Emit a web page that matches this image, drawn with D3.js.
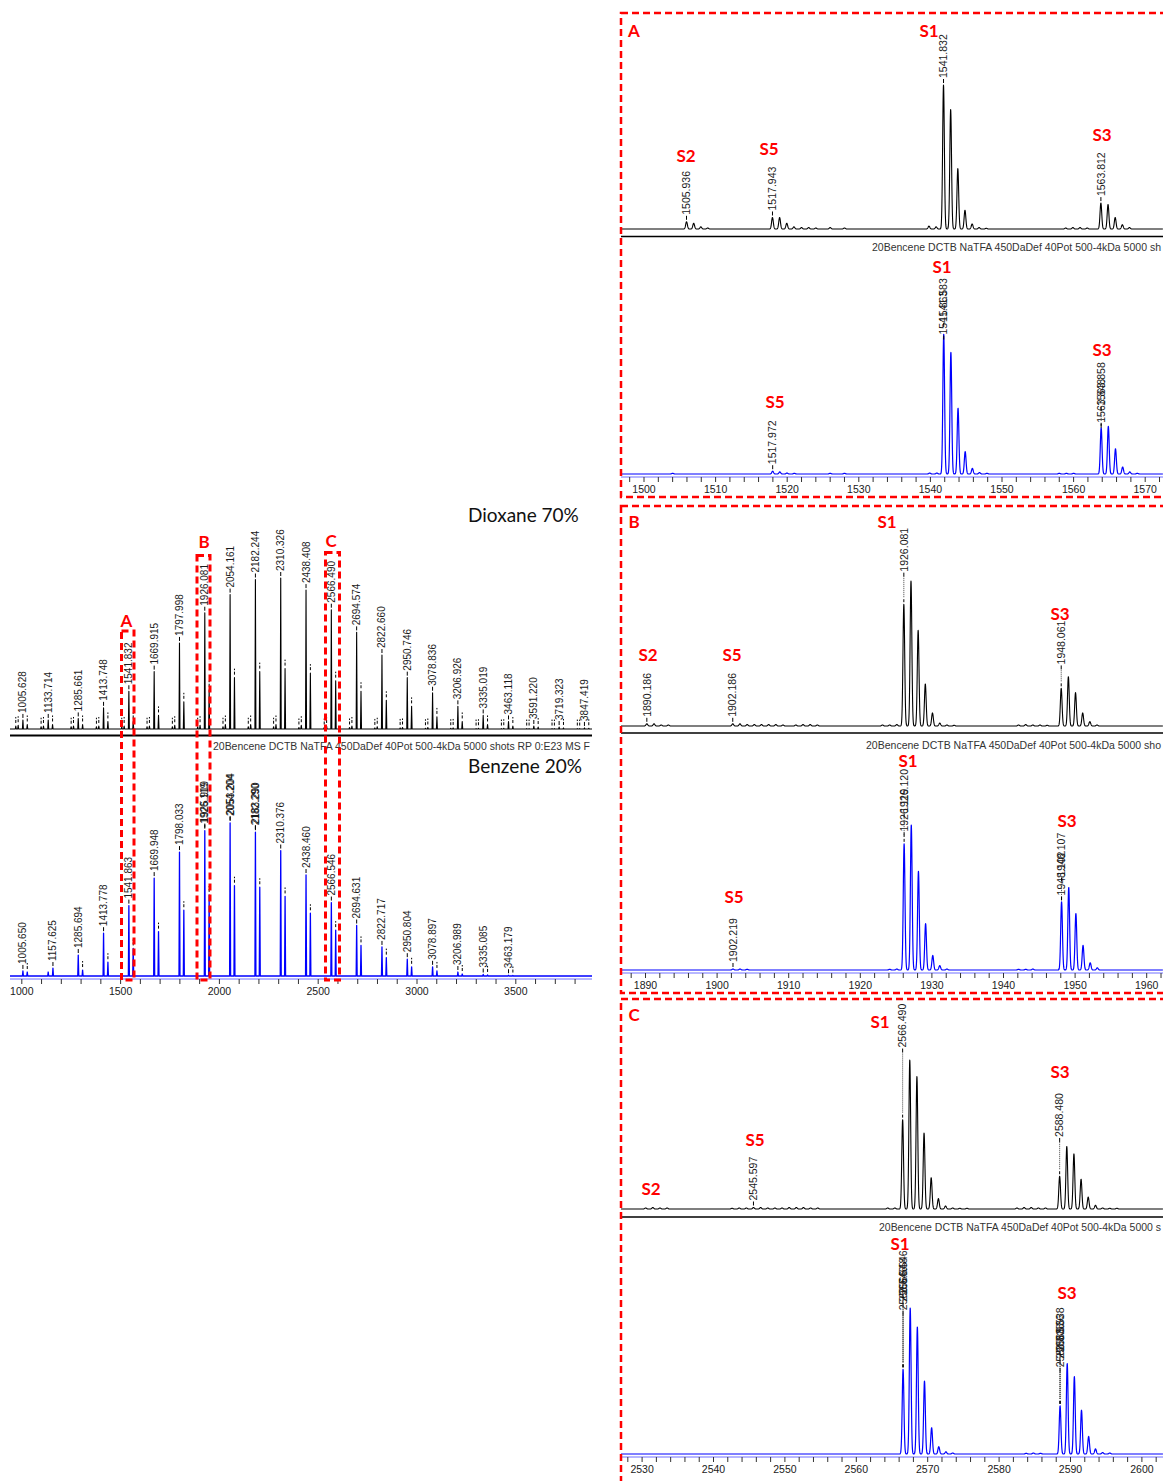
<!DOCTYPE html>
<html>
<head>
<meta charset="utf-8">
<title>MALDI spectra</title>
<script src="https://d3js.org/d3.v7.min.js"></script>
<style>
  body { margin: 0; background: #fff; }
</style>
</head>
<body>
<script>
// ---- overview spectra (left). heights are % of the tallest cluster
var dioxMass = [1005.628, 1133.714, 1285.661, 1413.748, 1541.832, 1669.915, 1797.998, 1926.081, 2054.161, 2182.244, 2310.326, 2438.408, 2566.490, 2694.574, 2822.660, 2950.746, 3078.836, 3206.926, 3335.019, 3463.118, 3591.220, 3719.323, 3847.419];
var dioxMain = [6, 6, 7, 14, 25, 38, 57, 77, 89, 99, 100, 92, 79, 64, 49, 34, 24, 15, 9, 5, 2, 1.3, 0.7];
// S3 peaks next to each cluster
var dioxS3Mass = [1027.6, 1155.7, 1307.7, 1435.7, 1563.8, 1691.9, 1820.0, 1948.1, 2076.2, 2204.2, 2332.3, 2460.4, 2588.5, 2716.6, 2844.7, 2972.7, 3100.8, 3228.9, 3357.0, 3485.1, 3613.2, 3741.3, 3869.4];
var dioxS3 = [3, 3, 3, 5, 5, 9, 18, 26, 34, 38, 40, 37, 32, 25, 19, 15, 8, 5, 3, 2, 1.3, 0.7, 0.5];
// small S5 / S2 peaks in front of each cluster
var dioxS5Mass = [981.6, 1109.7, 1261.7, 1389.7, 1517.9, 1645.9, 1774.0, 1902.1, 2030.2, 2158.2, 2286.3, 2414.4, 2542.5, 2670.6, 2798.7, 2926.7, 3054.8, 3182.9, 3311.0, 3439.1, 3567.2, 3695.3, 3823.4];
var dioxS5 = [2.5, 2, 2, 2, 2, 2, 2.5, 2.5, 3, 3, 3, 2.5, 2, 2, 1.5, 1, 1, 0.7, 0.5, 0.5, 0.3, 0.3, 0.3];
var dioxS2Mass = [969.6, 1097.7, 1249.7, 1377.7, 1505.9, 1633.9, 1762.0, 1890.1, 2018.2, 2146.2, 2274.3, 2402.4, 2530.5, 2658.6, 2786.7, 2914.7, 3042.8, 3170.9, 3299.0, 3427.1, 3555.2, 3683.3, 3811.4];
var dioxS2 = [2, 1.5, 1.5, 1.5, 1.5, 1.5, 1.5, 1.5, 1.5, 1.5, 1.5, 1, 1, 1, 0.7, 0.7, 0.5, 0.5, 0.3, 0.3, 0.3, 0.3, 0.3];

var benzMass = [1005.650, 1133.6, 1285.694, 1413.778, 1541.863, 1669.948, 1798.033, 1926.119, 2054.204, 2182.290, 2310.376, 2438.460, 2566.546, 2694.631, 2822.717, 2950.804, 3078.897, 3206.989, 3335.085, 3463.179];
var benzMain = [3.3, 2.6, 13.7, 28, 46, 64, 81, 95, 100, 94, 82, 66, 48, 33, 19, 11, 6, 2.6, 1, 0.5];
var benzS3Mass = [1027.6, 1157.625, 1307.7, 1435.8, 1563.8, 1691.9, 1820.0, 1948.1, 2076.2, 2204.3, 2332.4, 2460.4, 2588.5, 2716.6, 2844.7, 2972.8, 3100.9, 3229.0, 3357.1, 3485.2];
var benzS3 = [2.6, 5.2, 3.9, 9, 18, 29, 43, 53, 59, 58, 52, 41, 30, 20, 12, 6, 3.3, 1.3, 0.7, 0.3];
// [m/z, label, label anchor (optional, in % units)]
var benzLabels = [[1005.650, "1005.650"], [1157.625, "1157.625"], [1285.694, "1285.694"], [1413.778, "1413.778"],
  [1541.863, "1541.863"], [1669.948, "1669.948"], [1798.033, "1798.033"], [1926.119, "1926.119"], [1926.119, "1925.919", 97],
  [2054.204, "2054.204"], [2054.204, "2053.204", 102], [2182.290, "2182.290"], [2182.290, "2183.290", 96],
  [2310.376, "2310.376"], [2438.460, "2438.460"], [2566.546, "2566.546"], [2694.631, "2694.631"], [2822.717, "2822.717"],
  [2950.804, "2950.804"], [3078.897, "3078.897"], [3206.989, "3206.989"], [3335.085, "3335.085"], [3463.179, "3463.179"]];

// ---- zoomed spectra (right), [m/z, % of tallest peak]
var aDiox = [[1505.94, 5], [1506.94, 4], [1507.94, 1.5], [1508.9, 0.7], [1517.94, 8], [1518.94, 8], [1519.94, 4], [1520.94, 1.5],
  [1522.0, 1], [1523.0, 1], [1524.0, 0.7], [1526.0, 1], [1528.0, 0.7], [1539.8, 2], [1540.8, 1.5], [1541.83, 100], [1542.83, 83],
  [1543.83, 42], [1544.83, 13], [1545.83, 3.5], [1546.8, 1], [1547.8, 0.5], [1558.9, 0.7], [1559.9, 1], [1560.9, 1], [1561.9, 0.7],
  [1563.81, 18], [1564.81, 17], [1565.81, 8], [1566.81, 3], [1567.8, 1]];
var aDioxLabels = [[1505.936, "1505.936"], [1517.943, "1517.943"], [1541.832, "1541.832"], [1563.812, "1563.812"]];
var aBenz = [[1504.0, 0.5], [1517.97, 2], [1518.97, 1.5], [1519.97, 0.7], [1521.0, 0.5], [1526.0, 0.5], [1528.0, 0.5], [1539.9, 0.7],
  [1540.9, 0.7], [1541.86, 100], [1542.86, 87], [1543.86, 47], [1544.86, 16], [1545.86, 4], [1546.86, 1], [1547.9, 0.5], [1558.0, 0.5],
  [1559.0, 0.5], [1560.0, 0.5], [1563.85, 33], [1564.85, 34], [1565.85, 18], [1566.85, 5], [1567.85, 1.5], [1568.9, 0.5]];
var aBenzLabels = [[1517.972, "1517.972"], [1541.863, "1541.863", 96], [1541.863, "1541.583", 105], [1563.848, "1563.848", 33], [1563.848, "1563.858", 45]];

var bDiox = [[1890.19, 1.5], [1891.19, 1.5], [1892.19, 0.7], [1893.19, 0.7], [1902.19, 1.5], [1903.19, 1.5], [1904.2, 1], [1905.2, 1],
  [1906.2, 1], [1907.2, 1], [1908.2, 1], [1909.2, 0.7], [1911.0, 0.7], [1912.0, 1], [1913.0, 1], [1914.0, 0.7], [1923.1, 0.7], [1924.1, 0.7],
  [1925.1, 1], [1926.08, 84], [1927.08, 100], [1928.08, 66], [1929.08, 29], [1930.08, 9], [1931.1, 2], [1932.1, 0.7], [1933.1, 0.5],
  [1942.1, 0.7], [1943.1, 1], [1944.1, 0.7], [1945.1, 0.7], [1946.1, 0.5], [1948.06, 26], [1949.06, 34], [1950.06, 23], [1951.06, 9],
  [1952.06, 3], [1953.06, 0.7]];
var bDioxLabels = [[1890.186, "1890.186"], [1902.186, "1902.186"], [1926.081, "1926.081", 103], [1948.061, "1948.061", 39]];
var bBenz = [[1902.22, 0.7], [1903.2, 0.7], [1904.2, 0.5], [1924.1, 0.5], [1925.1, 0.7], [1926.12, 87], [1927.12, 100], [1928.12, 68],
  [1929.12, 32], [1930.12, 10], [1931.1, 3], [1932.1, 0.7], [1942.1, 0.5], [1943.1, 0.5], [1944.1, 0.7], [1948.11, 47], [1949.11, 57],
  [1950.11, 39], [1951.11, 17], [1952.11, 5], [1953.1, 1.5]];
var bBenzLabels = [[1902.219, "1902.219"], [1926.119, "1926.119", 92], [1926.119, "1926.120", 105], [1948.107, "1948.102", 48], [1948.107, "1948.107", 61]];

var cDiox = [[2530.5, 0.7], [2531.5, 1], [2532.5, 0.7], [2533.5, 0.7], [2542.6, 0.5], [2543.6, 0.7], [2544.6, 0.7], [2545.6, 1],
  [2546.6, 1], [2547.6, 0.7], [2548.6, 0.7], [2549.6, 0.7], [2550.6, 1], [2551.6, 1], [2552.6, 1], [2553.6, 0.7], [2554.6, 0.7],
  [2564.4, 0.7], [2565.4, 0.7], [2566.49, 60], [2567.49, 100], [2568.49, 89], [2569.49, 51], [2570.49, 21], [2571.5, 7], [2572.5, 2],
  [2573.5, 0.7], [2574.5, 0.5], [2575.5, 0.5], [2582.5, 0.7], [2583.5, 1], [2584.5, 1], [2585.5, 0.7], [2586.5, 0.7], [2588.48, 22],
  [2589.48, 42], [2590.48, 37], [2591.48, 20], [2592.48, 8], [2593.5, 2.5], [2594.5, 0.7], [2595.5, 0.5], [2596.5, 0.5]];
var cDioxLabels = [[2545.597, "2545.597"], [2566.490, "2566.490", 105], [2588.480, "2588.480", 45]];
var cBenz = [[2566.55, 58], [2567.55, 100], [2568.55, 87], [2569.55, 50], [2570.55, 18], [2571.55, 5], [2572.55, 1.5], [2573.5, 0.7],
  [2583.8, 0.5], [2584.8, 0.7], [2585.8, 0.5], [2588.54, 33], [2589.54, 62], [2590.54, 53], [2591.54, 30], [2592.54, 12], [2593.5, 3.5],
  [2594.5, 1], [2595.5, 0.7]];
var cBenzLabels = [[2566.546, "2566.546", 95], [2566.546, "2566.548", 101], [2566.546, "2566.546", 106],
  [2588.538, "2588.538", 56], [2588.538, "2588.536", 62], [2588.538, "2588.538", 67]];

// acquisition header, as much of it as shows before each panel edge
var headerLeft = "20Bencene DCTB NaTFA 450DaDef 40Pot 500-4kDa 5000 shots RP 0:E23 MS F";
var headerA = "20Bencene DCTB NaTFA 450DaDef 40Pot 500-4kDa 5000 sh";
var headerB = "20Bencene DCTB NaTFA 450DaDef 40Pot 500-4kDa 5000 sho";
var headerC = "20Bencene DCTB NaTFA 450DaDef 40Pot 500-4kDa 5000 s";

var RED = "#ff0000", BLUE = "#0000ff";
var LBL_FONT = "'Liberation Sans', Arial, sans-serif";
var ANN_FONT = "Lato, 'Open Sans', sans-serif";

var svg = d3.select("body").append("svg")
    .attr("width", 1163).attr("height", 1481)
    .style("font-family", LBL_FONT);
var defs = svg.append("defs");
function addClip(id, x0, x1) {
    defs.append("clipPath").attr("id", id)
        .append("rect").attr("x", x0).attr("y", 0).attr("width", x1 - x0).attr("height", 1481);
}
addClip("clipL", 10, 592);
addClip("clipR", 621, 1163);

function zip(ms, hs) { return ms.map(function(m, i) { return [m, hs[i]]; }); }

// narrow spikes for the overview (a whole isotope cluster is ~1px wide there)
function spikes(peaks, lo, hi, half) {
    var s = peaks.slice().sort(function(a, b) { return a[0] - b[0]; });
    var pts = [[lo, 0]];
    s.forEach(function(p) { pts.push([p[0] - half, 0], [p[0], p[1]], [p[0] + half, 0]); });
    pts.push([hi, 0]);
    return pts;
}
// gaussian line shape for the zoomed spectra
function profile(peaks, lo, hi, sigma, step) {
    var pts = [];
    for (var m = lo; m <= hi; m += step) {
        var v = 0;
        peaks.forEach(function(p) {
            var dm = m - p[0];
            if (Math.abs(dm) < 6 * sigma) v += p[1] * Math.exp(-dm * dm / (2 * sigma * sigma));
        });
        pts.push([m, v]);
    }
    return pts;
}
function nearest(peaks, m) {
    var best = peaks[0];
    peaks.forEach(function(p) { if (Math.abs(p[0] - m) < Math.abs(best[0] - m)) best = p; });
    return best;
}

function drawTrace(g, pts, x, y, color, clipId, w) {
    g.append("path").datum(pts)
        .attr("d", d3.line().x(function(d) { return x(d[0]); }).y(function(d) { return y(d[1]); }))
        .attr("fill", "none").attr("stroke", color).attr("stroke-width", w)
        .attr("stroke-linejoin", "round")
        .attr("clip-path", "url(#" + clipId + ")");
}

function drawLabels(g, labels, peaks, x, y, fs) {
    labels.forEach(function(l) {
        var pk = nearest(peaks, l[0]);
        var xp = x(l[0]), yp = y(pk[1]);
        var ya = yp - 2;
        if (l[2] != null) {
            ya = y(l[2]);
            if (ya < yp - 10) {
                g.append("line").attr("x1", xp).attr("x2", xp).attr("y1", yp - 2).attr("y2", yp - 5)
                    .attr("stroke", "#000").attr("stroke-width", 1);
                g.append("line").attr("x1", xp).attr("x2", xp).attr("y1", yp - 7).attr("y2", ya)
                    .attr("stroke", "#444").attr("stroke-width", 1).attr("stroke-dasharray", "1,1");
            }
        }
        g.append("line").attr("x1", xp).attr("x2", xp).attr("y1", ya).attr("y2", ya - 4)
            .attr("stroke", "#000").attr("stroke-width", 1);
        g.append("text")
            .attr("transform", "translate(" + xp + "," + (ya - 5) + ") rotate(-90)")
            .attr("dy", "0.35em")
            .style("font-size", fs + "px")
            .style("fill", "#1a1a1a")
            .text(l[1]);
    });
}

function pickMarks(g, peaks, x, y) {
    peaks.forEach(function(p) {
        var yy = y(p[1]);
        g.append("line").attr("x1", x(p[0])).attr("x2", x(p[0]))
            .attr("y1", yy - 3).attr("y2", yy - 9)
            .attr("stroke", "#000").attr("stroke-width", 1).attr("stroke-dasharray", "3,1.5");
    });
}

function bottomAxis(g, x, yAxis, major, minor, lo, hi, x0, x1, labelY, color) {
    g.append("line").attr("x1", x0).attr("x2", x1).attr("y1", yAxis).attr("y2", yAxis)
        .attr("stroke", color).attr("stroke-width", 1);
    var minorTicks = d3.range(Math.ceil(lo / minor) * minor, hi, minor);
    g.selectAll(null).data(minorTicks).enter().append("line")
        .attr("x1", function(d) { return x(d); }).attr("x2", function(d) { return x(d); })
        .attr("y1", yAxis).attr("y2", yAxis + 5)
        .attr("stroke", "#333").attr("stroke-width", 1);
    var majorTicks = d3.range(Math.ceil(lo / major) * major, hi, major);
    g.selectAll(null).data(majorTicks).enter().append("text")
        .attr("x", function(d) { return x(d); }).attr("y", labelY)
        .attr("text-anchor", "middle")
        .style("font-size", "10.5px").style("fill", "#1a1a1a")
        .text(function(d) { return d; });
}

function headerText(g, txt, x0, x1, y, fs) {
    g.append("text").attr("x", x0).attr("y", y)
        .attr("textLength", x1 - x0).attr("lengthAdjust", "spacingAndGlyphs")
        .style("font-size", fs + "px").style("fill", "#333").text(txt);
}

// ================= left overview =================
var left = svg.append("g");
var xo = d3.scaleLinear().domain([1000, 3000]).range([21.8, 417]);
var loL = xo.invert(10), hiL = xo.invert(592);
var yTop = d3.scaleLinear().domain([0, 100]).range([729, 578]);
var yBot = d3.scaleLinear().domain([0, 100]).range([976, 823]);

var dioxPeaks = zip(dioxMass, dioxMain).concat(zip(dioxS3Mass, dioxS3), zip(dioxS5Mass, dioxS5), zip(dioxS2Mass, dioxS2));
drawTrace(left, spikes(dioxPeaks, loL, hiL, 2.5), xo, yTop, "#000", "clipL", 1.1);
drawLabels(left, dioxMass.map(function(m) { return [m, m.toFixed(3)]; }), dioxPeaks, xo, yTop, 10);
pickMarks(left, zip(dioxS3Mass, dioxS3).concat(zip(dioxS5Mass, dioxS5), zip(dioxS2Mass, dioxS2))
    .filter(function(p) { return xo(p[0]) > 10 && xo(p[0]) < 590; }), xo, yTop);

left.append("line").attr("x1", 10).attr("x2", 592).attr("y1", 735.5).attr("y2", 735.5)
    .attr("stroke", "#000").attr("stroke-width", 2);
headerText(left, headerLeft, 213, 590, 750, 10);

var benzPeaks = zip(benzMass, benzMain).concat(zip(benzS3Mass, benzS3));
drawTrace(left, spikes(benzPeaks, loL, hiL, 2.5), xo, yBot, BLUE, "clipL", 1.3);
drawLabels(left, benzLabels, benzPeaks, xo, yBot, 10);
pickMarks(left, zip(benzS3Mass, benzS3).filter(function(p) { return p[0] !== 1157.625; }), xo, yBot);
bottomAxis(left, xo, 979, 500, 100, loL, hiL, 10, 592, 995, "#7070ff");

left.append("text").attr("x", 468).attr("y", 522).style("font-family", ANN_FONT)
    .style("font-size", "19px").style("fill", "#111").text("Dioxane 70%");
left.append("text").attr("x", 468).attr("y", 773).style("font-family", ANN_FONT)
    .style("font-size", "19px").style("fill", "#111").text("Benzene 20%");

// dashed boxes marking the zoomed windows
var zoomBoxes = [
    {name: "A", x: 121.5, y: 631, w: 12.5, h: 349, lx: 126.5, ly: 627},
    {name: "B", x: 197, y: 555.5, w: 13, h: 424.5, lx: 204, ly: 548},
    {name: "C", x: 325.5, y: 552.5, w: 14, h: 427.5, lx: 331, ly: 547}
];
zoomBoxes.forEach(function(b) {
    left.append("rect").attr("x", b.x).attr("y", b.y).attr("width", b.w).attr("height", b.h)
        .attr("fill", "none").attr("stroke", RED).attr("stroke-width", 3).attr("stroke-dasharray", "7,4");
    left.append("text").attr("x", b.lx).attr("y", b.ly).attr("text-anchor", "middle")
        .style("font-family", ANN_FONT).style("font-weight", "bold").style("font-size", "17px")
        .style("fill", RED).text(b.name);
});

// ================= right zoom panels =================
var panels = [
    {name: "A", dom: [1500, 1570], rng: [644, 1145.2],
     top: {base: 229, h: 144, peaks: aDiox, labels: aDioxLabels}, sep: 236.5, head: [headerA, 872, 251],
     bot: {base: 474, h: 140, peaks: aBenz, labels: aBenzLabels}, axisY: 477, box: [621, 13, 600, 484],
     ann: [["A", 634, 37], ["S1", 929, 37], ["S2", 686, 162], ["S5", 769, 155], ["S3", 1102, 141],
           ["S1", 942, 273], ["S5", 775, 408], ["S3", 1102, 356]]},
    {name: "B", dom: [1890, 1960], rng: [645.5, 1146.7],
     top: {base: 726, h: 145, peaks: bDiox, labels: bDioxLabels}, sep: 733, head: [headerB, 866, 749],
     bot: {base: 970, h: 145, peaks: bBenz, labels: bBenzLabels}, axisY: 973, box: [621, 506, 600, 487],
     ann: [["B", 634, 528], ["S1", 887, 528], ["S2", 648, 661], ["S5", 732, 661], ["S3", 1060, 620],
           ["S1", 908, 767], ["S5", 734, 903], ["S3", 1067, 827]]},
    {name: "C", dom: [2530, 2600], rng: [642.1, 1141.9],
     top: {base: 1209, h: 149, peaks: cDiox, labels: cDioxLabels}, sep: 1217, head: [headerC, 879, 1231],
     bot: {base: 1454, h: 146, peaks: cBenz, labels: cBenzLabels}, axisY: 1457, box: [621, 999, 600, 500],
     ann: [["C", 634, 1021], ["S1", 880, 1028], ["S3", 1060, 1078], ["S5", 755, 1146], ["S2", 651, 1195],
           ["S1", 900, 1250], ["S3", 1067, 1299]]}
];

panels.forEach(function(p) {
    var g = svg.append("g");
    var x = d3.scaleLinear().domain(p.dom).range(p.rng);
    var lo = x.invert(621), hi = x.invert(1163);

    var yT = d3.scaleLinear().domain([0, 100]).range([p.top.base, p.top.base - p.top.h]);
    drawTrace(g, profile(p.top.peaks, lo, hi, 0.12, 0.02), x, yT, "#000", "clipR", 1.1);
    drawLabels(g, p.top.labels, p.top.peaks, x, yT, 10.5);

    g.append("line").attr("x1", 621).attr("x2", 1163).attr("y1", p.sep).attr("y2", p.sep)
        .attr("stroke", "#000").attr("stroke-width", 1.6);
    headerText(g, p.head[0], p.head[1], 1161, p.head[2], 10.5);

    var yB = d3.scaleLinear().domain([0, 100]).range([p.bot.base, p.bot.base - p.bot.h]);
    drawTrace(g, profile(p.bot.peaks, lo, hi, 0.12, 0.02), x, yB, BLUE, "clipR", 1.2);
    drawLabels(g, p.bot.labels, p.bot.peaks, x, yB, 10.5);
    bottomAxis(g, x, p.axisY, 10, 2, lo, hi, 621, 1163, p.axisY + 16, "#7070ff");

    g.append("rect").attr("x", p.box[0]).attr("y", p.box[1]).attr("width", p.box[2]).attr("height", p.box[3])
        .attr("fill", "none").attr("stroke", RED).attr("stroke-width", 2.5).attr("stroke-dasharray", "7,4");

    p.ann.forEach(function(a) {
        g.append("text").attr("x", a[1]).attr("y", a[2]).attr("text-anchor", "middle")
            .style("font-family", ANN_FONT).style("font-weight", "bold").style("font-size", "17px")
            .style("fill", RED).text(a[0]);
    });
});
</script>
</body>
</html>
